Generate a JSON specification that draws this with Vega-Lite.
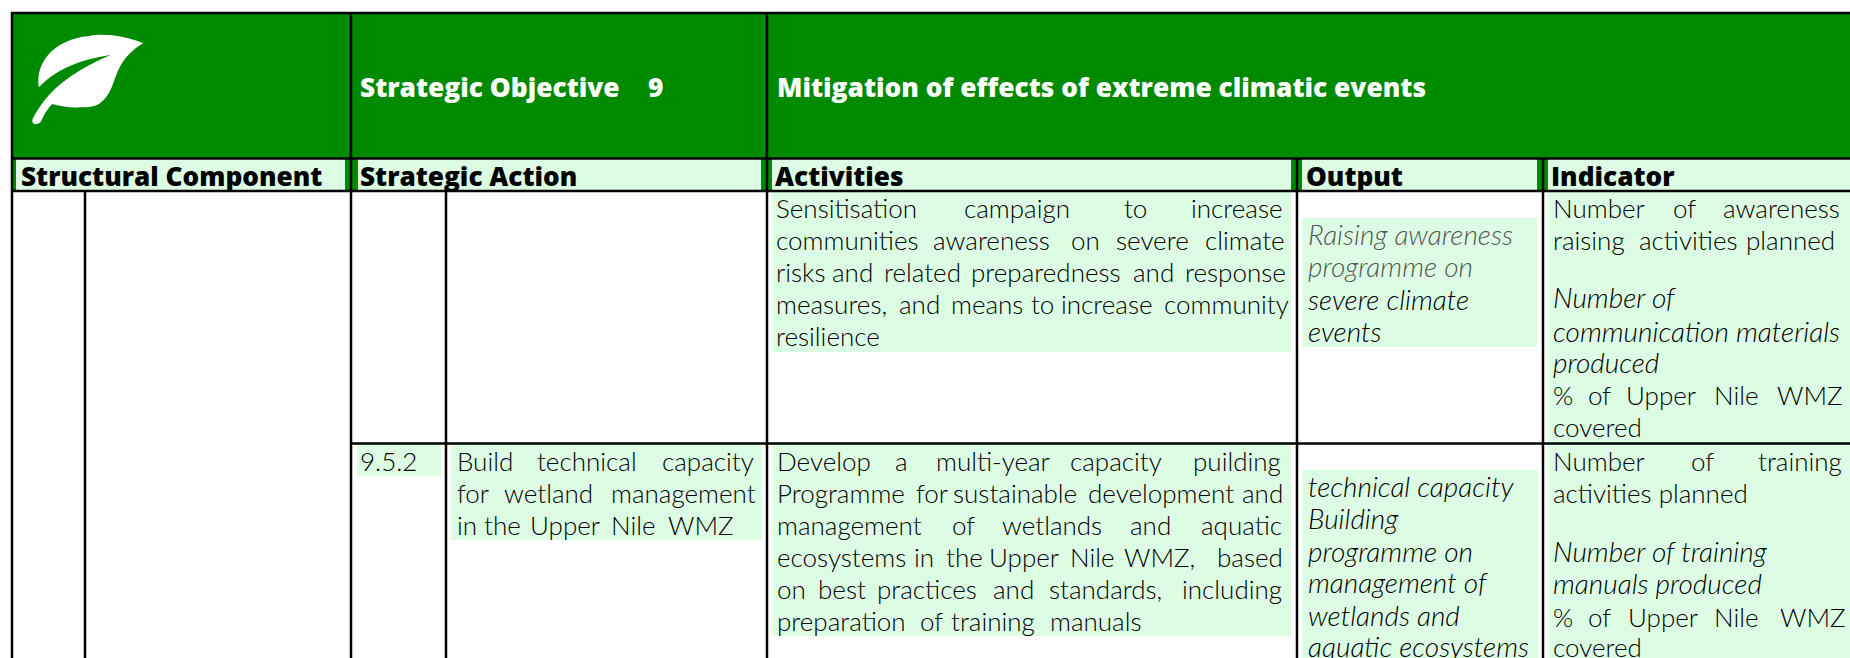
{"$schema":"https://vega.github.io/schema/vega-lite/v6.json","width":1850,"height":658,"padding":0,"autosize":"none","background":"white","config":{"view":{"stroke":null}},
"datasets":{
"fills":[{"x":12,"x2":1850,"y":13,"y2":191,"kind":"band"},{"x":16,"x2":345,"y":159,"y2":191,"kind":"cell"},{"x":358,"x2":761,"y":159,"y2":191,"kind":"cell"},{"x":772,"x2":1291,"y":159,"y2":191,"kind":"cell"},{"x":1302,"x2":1537,"y":159,"y2":191,"kind":"cell"},{"x":1548,"x2":1850,"y":159,"y2":191,"kind":"cell"},{"x":772,"x2":1291,"y":191,"y2":352,"kind":"cell"},{"x":1302,"x2":1537,"y":218,"y2":347,"kind":"cell"},{"x":1548,"x2":1850,"y":191,"y2":658,"kind":"cell"},{"x":357,"x2":441,"y":443,"y2":476,"kind":"cell"},{"x":451,"x2":762,"y":443,"y2":540,"kind":"cell"},{"x":772,"x2":1291,"y":443,"y2":636,"kind":"cell"},{"x":1302,"x2":1538,"y":470,"y2":658,"kind":"cell"}],
"hlines":[{"x":11,"x2":1850,"y":13},{"x":11,"x2":1850,"y":158.5},{"x":11,"x2":1850,"y":191},{"x":351,"x2":1850,"y":443.5}],
"vlines":[{"x":12,"y":12,"y2":658},{"x":351,"y":12,"y2":658},{"x":767,"y":12,"y2":658},{"x":1297,"y":158,"y2":658},{"x":1543,"y":158,"y2":658},{"x":85,"y":191,"y2":658},{"x":446,"y":191,"y2":658}],
"logo":[{"x":87.5,"y":80}],
"titles":[{"x":360,"y":97,"text":"Strategic Objective"},{"x":648,"y":97,"text":"9"},{"x":777,"y":97,"text":"Mitigation of effects of extreme climatic events"}],
"heads":[{"x":21,"y":186,"text":"Structural Component"},{"x":360,"y":186,"text":"Strategic Action"},{"x":775,"y":186,"text":"Activities"},{"x":1306,"y":186,"text":"Output"},{"x":1551,"y":186,"text":"Indicator"}],
"body":[
{"x":776,"y":218,"text":"Sensitisation"},{"x":964,"y":218,"text":"campaign"},{"x":1124,"y":218,"text":"to"},{"x":1191,"y":218,"text":"increase"},
{"x":776,"y":250,"text":"communities"},{"x":933,"y":250,"text":"awareness"},{"x":1071,"y":250,"text":"on"},{"x":1116,"y":250,"text":"severe"},{"x":1205,"y":250,"text":"climate"},
{"x":776,"y":282,"text":"risks"},{"x":832,"y":282,"text":"and"},{"x":884,"y":282,"text":"related"},{"x":971,"y":282,"text":"preparedness"},{"x":1133,"y":282,"text":"and"},{"x":1185,"y":282,"text":"response"},
{"x":776,"y":314,"text":"measures,"},{"x":899,"y":314,"text":"and"},{"x":951,"y":314,"text":"means"},{"x":1031,"y":314,"text":"to"},{"x":1061,"y":314,"text":"increase"},{"x":1164,"y":314,"text":"community"},
{"x":776,"y":346,"text":"resilience"},
{"x":1553,"y":218,"text":"Number"},{"x":1673,"y":218,"text":"of"},{"x":1723,"y":218,"text":"awareness"},
{"x":1553,"y":250,"text":"raising"},{"x":1639,"y":250,"text":"activities"},{"x":1746,"y":250,"text":"planned"},
{"x":1553,"y":405,"text":"%"},{"x":1588,"y":405,"text":"of"},{"x":1626,"y":405,"text":"Upper"},{"x":1714,"y":405,"text":"Nile"},{"x":1777,"y":405,"text":"WMZ"},
{"x":1553,"y":437,"text":"covered"},
{"x":360,"y":471,"text":"9.5.2"},
{"x":457,"y":471,"text":"Build"},{"x":537,"y":471,"text":"technical"},{"x":662,"y":471,"text":"capacity"},
{"x":457,"y":503,"text":"for"},{"x":504,"y":503,"text":"wetland"},{"x":611,"y":503,"text":"management"},
{"x":457,"y":535,"text":"in"},{"x":484,"y":535,"text":"the"},{"x":530,"y":535,"text":"Upper"},{"x":611,"y":535,"text":"Nile"},{"x":668,"y":535,"text":"WMZ"},
{"x":777,"y":471,"text":"Develop"},{"x":895,"y":471,"text":"a"},{"x":936,"y":471,"text":"multi-year"},{"x":1070,"y":471,"text":"capacity"},{"x":1193,"y":471,"text":"puilding"},
{"x":777,"y":503,"text":"Programme"},{"x":916,"y":503,"text":"for"},{"x":953,"y":503,"text":"sustainable"},{"x":1088,"y":503,"text":"development"},{"x":1242,"y":503,"text":"and"},
{"x":777,"y":535,"text":"management"},{"x":952,"y":535,"text":"of"},{"x":1002,"y":535,"text":"wetlands"},{"x":1130,"y":535,"text":"and"},{"x":1201,"y":535,"text":"aquatic"},
{"x":777,"y":567,"text":"ecosystems"},{"x":914,"y":567,"text":"in"},{"x":946,"y":567,"text":"the"},{"x":989,"y":567,"text":"Upper"},{"x":1070,"y":567,"text":"Nile"},{"x":1124,"y":567,"text":"WMZ,"},{"x":1217,"y":567,"text":"based"},
{"x":777,"y":599,"text":"on"},{"x":818,"y":599,"text":"best"},{"x":877,"y":599,"text":"practices"},{"x":993,"y":599,"text":"and"},{"x":1049,"y":599,"text":"standards,"},{"x":1182,"y":599,"text":"including"},
{"x":777,"y":631,"text":"preparation"},{"x":920,"y":631,"text":"of"},{"x":951,"y":631,"text":"training"},{"x":1050,"y":631,"text":"manuals"},
{"x":1553,"y":471,"text":"Number"},{"x":1691,"y":471,"text":"of"},{"x":1758,"y":471,"text":"training"},
{"x":1553,"y":503,"text":"activities planned"},
{"x":1553,"y":627,"text":"%"},{"x":1588,"y":627,"text":"of"},{"x":1628,"y":627,"text":"Upper"},{"x":1714,"y":627,"text":"Nile"},{"x":1780,"y":627,"text":"WMZ"},
{"x":1553,"y":657,"text":"covered"}],
"notes":[{"x":1308,"y":310,"text":"severe climate"},{"x":1308,"y":342,"text":"events"},
{"x":1553,"y":308,"text":"Number of"},{"x":1553,"y":342,"text":"communication"},{"x":1736,"y":342,"text":"materials"},{"x":1553,"y":373,"text":"produced"},
{"x":1308,"y":497,"text":"technical capacity"},{"x":1308,"y":529,"text":"Building"},{"x":1308,"y":562,"text":"programme on"},{"x":1308,"y":593,"text":"management of"},{"x":1308,"y":626,"text":"wetlands and"},{"x":1308,"y":657,"text":"aquatic ecosystems"},
{"x":1553,"y":562,"text":"Number of training"},{"x":1553,"y":594,"text":"manuals produced"}],
"grayNotes":[{"x":1308,"y":245,"text":"Raising awareness"},{"x":1308,"y":277,"text":"programme on"}]
},
"encoding":{"x":{"field":"x","type":"quantitative","axis":null,"scale":{"domain":[0,1850],"nice":false,"zero":false}},"y":{"field":"y","type":"quantitative","axis":null,"scale":{"domain":[0,658],"nice":false,"zero":false,"reverse":true}}},
"layer":[
{"data":{"name":"fills"},"mark":{"type":"rect"},"encoding":{"x2":{"field":"x2"},"y2":{"field":"y2"},"color":{"field":"kind","type":"nominal","legend":null,"scale":{"domain":["band","cell"],"range":["#008a00","#dcfde3"]}}}},
{"data":{"name":"hlines"},"mark":{"type":"rule","color":"#000","strokeWidth":2.5},"encoding":{"x2":{"field":"x2"}}},
{"data":{"name":"vlines"},"mark":{"type":"rule","color":"#000","strokeWidth":2.5},"encoding":{"y2":{"field":"y2"}}},
{"data":{"name":"logo"},"mark":{"type":"point","filled":true,"fill":"#fff","opacity":1,"stroke":null,"size":12544,"shape":"M0.996 -0.655 C0.7 -0.78 0.3 -0.84 0.037 -0.786 C-0.3 -0.76 -0.55 -0.62 -0.7 -0.45 C-0.85 -0.27 -0.9 -0.08 -0.87 0.131 Q-0.45 -0.32 0.409 -0.446 Q-0.4 -0.1 -0.763 0.357 C-0.85 0.47 -0.95 0.62 -0.986 0.714 C-0.99 0.77 -0.95 0.8 -0.923 0.786 C-0.88 0.79 -0.85 0.76 -0.834 0.744 C-0.77 0.6 -0.7 0.5 -0.63 0.429 C-0.45 0.48 -0.3 0.5 -0.141 0.488 C0 0.49 0.1 0.48 0.17 0.446 C0.3 0.38 0.38 0.25 0.436 0.12 C0.5 -0.05 0.55 -0.2 0.614 -0.298 C0.7 -0.43 0.85 -0.58 0.996 -0.655 Z"}},
{"data":{"name":"titles"},"mark":{"type":"text","align":"left","baseline":"alphabetic","font":"Open Sans","fontWeight":800,"fontSize":26.3,"color":"#fff"},"encoding":{"text":{"field":"text"}}},
{"data":{"name":"heads"},"mark":{"type":"text","align":"left","baseline":"alphabetic","font":"Open Sans","fontWeight":800,"fontSize":26.2,"color":"#000"},"encoding":{"text":{"field":"text"}}},
{"data":{"name":"body"},"mark":{"type":"text","align":"left","baseline":"alphabetic","font":"Lato","fontWeight":300,"fontSize":26,"color":"#000"},"encoding":{"text":{"field":"text"}}},
{"data":{"name":"notes"},"mark":{"type":"text","align":"left","baseline":"alphabetic","font":"Lato","fontStyle":"italic","fontWeight":300,"fontSize":28,"color":"#000"},"encoding":{"text":{"field":"text"}}},
{"data":{"name":"grayNotes"},"mark":{"type":"text","align":"left","baseline":"alphabetic","font":"Lato","fontStyle":"italic","fontWeight":300,"fontSize":28,"color":"#555"},"encoding":{"text":{"field":"text"}}}
]}
